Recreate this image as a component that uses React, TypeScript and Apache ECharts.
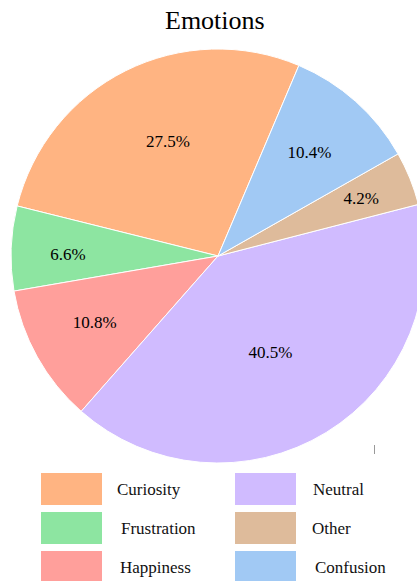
import React, { useEffect, useRef } from "react";
import * as echarts from "echarts";

const categories = ["Curiosity", "Frustration", "Happiness", "Neutral", "Other", "Confusion"];
const percents = [27.5, 6.6, 10.8, 40.5, 4.2, 10.4];
const colors = ["#ffb482", "#8de5a1", "#ff9f9b", "#d0bbff", "#debb9b", "#a1c9f4"];
const legendLeftColumn = ["Curiosity", "Frustration", "Happiness"];
const legendRightColumn = ["Neutral", "Other", "Confusion"];

// layout constants
const CX = 218;
const CY = 256;
const R = 207;
const START = 67;
const labelRadiusFactor = [0.605, 0.725, 0.677, 0.53, 0.746, 0.668];
const labelAngleNudge = [-3, 1.6, -0.9, -3, 0, 0.3];
const legendTextPad: Record<string, number> = {
  Curiosity: 10,
  Frustration: 14,
  Happiness: 13,
  Neutral: 12,
  Other: 11,
  Confusion: 14,
};
const LEGEND_COL_X = [41, 235];
const LEGEND_TOP = 473;
const LEGEND_ROW_STEP = 39;
const FONT = "Liberation Serif";

export default function App() {
  const ref = useRef<HTMLDivElement>(null);
  useEffect(() => {
    document.body.style.margin = "0";
    if (!ref.current) return;
    const chart = echarts.init(ref.current, undefined, { renderer: "svg" });
    const total = percents.reduce((a, b) => a + b, 0);
    const midAngles: number[] = [];
    let acc = START;
    percents.forEach((v) => {
      const span = (v / total) * 360;
      midAngles.push(acc + span / 2);
      acc += span;
    });
    const legends: any[] = [];
    [legendLeftColumn, legendRightColumn].forEach((col, c) => {
      col.forEach((n, r) => {
        legends.push({
          orient: "vertical",
          left: LEGEND_COL_X[c],
          top: LEGEND_TOP + r * LEGEND_ROW_STEP,
          width: 180,
          height: 60,
          padding: 0,
          itemWidth: 61,
          itemHeight: 32,
          icon: "rect",
          itemStyle: { borderWidth: 0 },
          selectedMode: false,
          data: [
            {
              name: n,
              textStyle: {
                fontFamily: FONT,
                fontSize: 17,
                color: "#111",
                padding: [0, 0, 0, legendTextPad[n]],
              },
            },
          ],
          textStyle: { fontFamily: FONT, fontSize: 17, color: "#111" },
        });
      });
    });
    chart.setOption({
      animation: false,
      textStyle: { fontFamily: FONT },
      title: {
        text: "Emotions",
        left: 165,
        top: 7,
        padding: 0,
        textStyle: { fontFamily: FONT, fontSize: 26, fontWeight: "normal", color: "#000" },
      },
      legend: legends,
      graphic: [
        {
          type: "line",
          shape: { x1: 374.5, y1: 445, x2: 374.5, y2: 454 },
          style: { stroke: "#999", lineWidth: 1 },
          silent: true,
        },
      ],
      series: [
        {
          type: "pie",
          center: [CX, CY],
          radius: R,
          startAngle: START,
          clockwise: false,
          avoidLabelOverlap: false,
          itemStyle: { borderColor: "#fff", borderWidth: 1 },
          label: {
            show: true,
            position: "inside",
            formatter: (p: any) => `${percents[p.dataIndex].toFixed(1)}%`,
            fontFamily: FONT,
            fontSize: 17,
            color: "#000",
          },
          labelLine: { show: false },
          labelLayout: (p: any) => {
            const i = p.dataIndex;
            const a = ((midAngles[i] + labelAngleNudge[i]) * Math.PI) / 180;
            const rr = labelRadiusFactor[i] * R;
            return {
              x: CX + rr * Math.cos(a),
              y: CY - rr * Math.sin(a),
              align: "center",
              verticalAlign: "middle",
            };
          },
          emphasis: { disabled: true },
          data: categories.map((name, i) => ({
            name,
            value: percents[i],
            itemStyle: { color: colors[i] },
          })),
        },
      ],
    });
    return () => chart.dispose();
  }, []);
  return <div ref={ref} style={{ width: 417, height: 581 }} />;
}
